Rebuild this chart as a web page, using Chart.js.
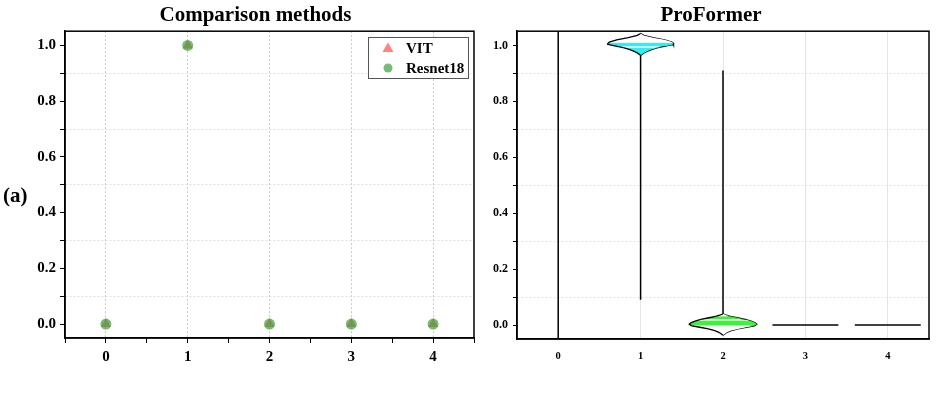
<!DOCTYPE html>
<html>
<head>
<meta charset="utf-8">
<script src="https://cdn.jsdelivr.net/npm/chart.js@4.4.0/dist/chart.umd.min.js"></script>
<style>
  html, body { margin: 0; padding: 0; background: #fff; }
  #wrap { position: relative; width: 936px; height: 393px; }
  #leftBox { position: absolute; left: 0; top: 0; width: 480px; height: 393px; }
  #rightBox { position: absolute; left: 480px; top: 0; width: 456px; height: 393px; }
  #tag { position: absolute; left: 3px; top: 183px; font: bold 21px 'Liberation Serif', serif; line-height: 24px; }
</style>
</head>
<body>
<div id="wrap">
  <div id="leftBox"><canvas id="cmpChart" width="480" height="393"></canvas></div>
  <div id="rightBox"><canvas id="proChart" width="456" height="393"></canvas></div>
  <div id="tag">(a)</div>
</div>
<script>
// class indices and scores of the comparison methods
const classes = [0, 1, 2, 3, 4];
const vitScores = [0, 1, 0, 0, 0];
const resnetScores = [0, 1, 0, 0, 0];

// ProFormer: vertical range line per class (null = none)
const proLineLow = [-0.05, 0.09, 0.04, null, null];
const proLineHigh = [1.05, 0.964, 0.91, null, null];

// classes whose distribution collapses to a single value
const flatClasses = [3, 4];
const flatValues = [0, 0];
const flatHalfWidth = [0.4, 0.4];

// violin of class 1 (levels and half widths)
const violin1Levels = [1.043, 1.036, 1.028, 1.020, 1.013, 1.009, 1.004, 1.000, 0.996, 0.992, 0.986, 0.980, 0.974, 0.969, 0.964];
const violin1Widths = [0, 0.04, 0.15, 0.29, 0.37, 0.395, 0.40, 0.34, 0.27, 0.21, 0.14, 0.085, 0.045, 0.02, 0];
const violin1Band = [0.964, 1.009];
const violin1Stripe = [0.992, 0.996];

// violin of class 2
const violin2Levels = [0.040, 0.035, 0.031, 0.026, 0.020, 0.014, 0.008, 0.003, -0.003, -0.008, -0.014, -0.020, -0.026, -0.032, -0.037];
const violin2Widths = [0, 0.04, 0.09, 0.17, 0.27, 0.34, 0.39, 0.41, 0.38, 0.28, 0.18, 0.10, 0.05, 0.02, 0];
const violin2Band = [-0.003, 0.031];
const violin2Stripe = [0.014, 0.020];

Chart.defaults.font.family = "'Liberation Serif', 'Times New Roman', serif";
Chart.defaults.font.weight = 'bold';
Chart.defaults.color = '#000';

const isInt = v => Math.abs(v - Math.round(v)) < 1e-6;
const isEvenTenth = v => Math.round(v * 10) % 2 === 0;

// box around the plot area
const framePlugin = {
  id: 'frame',
  afterDraw(chart) {
    const { ctx, chartArea: a } = chart;
    ctx.save();
    ctx.strokeStyle = '#000';
    ctx.lineWidth = 1.5;
    ctx.strokeRect(a.left, a.top, a.right - a.left, a.bottom - a.top);
    ctx.restore();
  }
};

// legend box inside the plot, top right
const boxLegend = {
  id: 'boxLegend',
  afterDraw(chart) {
    const ctx = chart.ctx;
    const x0 = 368, y0 = 37, w = 100, h = 41;
    ctx.save();
    ctx.fillStyle = '#fff';
    ctx.fillRect(x0, y0, w, h);
    ctx.strokeStyle = '#555';
    ctx.lineWidth = 1;
    ctx.strokeRect(x0 + 0.5, y0 + 0.5, w, h);
    chart.data.datasets.forEach((ds, i) => {
      const cy = y0 + 11 + i * 20, cx = x0 + 20;
      ctx.fillStyle = ds.backgroundColor;
      ctx.beginPath();
      if (ds.pointStyle === 'triangle') {
        ctx.moveTo(cx, cy - 5.5);
        ctx.lineTo(cx + 5.5, cy + 4);
        ctx.lineTo(cx - 5.5, cy + 4);
        ctx.closePath();
      } else {
        ctx.arc(cx, cy, 4.5, 0, Math.PI * 2);
      }
      ctx.fill();
      ctx.fillStyle = '#000';
      ctx.font = "bold 15px 'Liberation Serif'";
      ctx.textBaseline = 'middle';
      ctx.fillText(ds.label, x0 + 38, cy + 1);
    });
    ctx.restore();
  }
};

new Chart(document.getElementById('cmpChart'), {
  type: 'scatter',
  data: {
    datasets: [
      {
        label: 'VIT',
        data: classes.map((c, i) => ({ x: c, y: vitScores[i] })),
        pointStyle: 'triangle',
        backgroundColor: 'rgba(255, 90, 90, 0.75)',
        borderColor: 'rgba(255, 90, 90, 0.75)',
        borderWidth: 0,
        pointRadius: 6,
        order: 2
      },
      {
        label: 'Resnet18',
        data: classes.map((c, i) => ({ x: c, y: resnetScores[i] })),
        pointStyle: 'circle',
        backgroundColor: 'rgba(60, 160, 60, 0.7)',
        borderColor: 'rgba(60, 160, 60, 0.7)',
        borderWidth: 0,
        pointRadius: 5.5,
        order: 1
      }
    ]
  },
  options: {
    responsive: false,
    animation: false,
    layout: { padding: { left: 36, right: 5, top: 0, bottom: 0 } },
    plugins: {
      legend: { display: false },
      tooltip: { enabled: false },
      title: {
        display: true,
        text: 'Comparison methods',
        font: { size: 21, weight: 'bold' },
        padding: { top: 3, bottom: 3 }
      }
    },
    scales: {
      x: {
        type: 'linear', min: -0.5, max: 4.5,
        afterFit: s => { s.height = 55; },
        ticks: {
          stepSize: 0.5, autoSkip: false, maxRotation: 0, padding: 5,
          font: { size: 15, weight: 'bold' },
          callback: v => isInt(v) ? String(Math.round(v)) : ''
        },
        grid: {
          color: c => isInt(c.tick.value) ? '#c8c8c8' : 'rgba(0,0,0,0)',
          tickColor: '#000', tickLength: 5, lineWidth: 1
        },
        border: { color: '#000', width: 1.5, dash: [2, 2] }
      },
      y: {
        type: 'linear', min: -0.05, max: 1.051,
        afterFit: s => { s.width = 29; },
        ticks: {
          stepSize: 0.1, autoSkip: false, includeBounds: false, padding: 4,
          font: { size: 15, weight: 'bold' },
          callback: v => isEvenTenth(v) ? v.toFixed(1) : ''
        },
        grid: {
          color: c => isEvenTenth(c.tick.value) ? 'rgba(0,0,0,0)' : '#e0e0e0',
          tickColor: '#000', tickLength: 5, lineWidth: 1
        },
        border: { color: '#000', width: 1.5, dash: [2, 2] }
      }
    }
  },
  plugins: [framePlugin, boxLegend]
});

// ---- ProFormer violins ----
function inside(a, b, r) {
  return Math.min(a, b) >= r[0] - 1e-9 && Math.max(a, b) <= r[1] + 1e-9;
}

function violinEdges(center, levels, widths, band, stripe, color, pale) {
  const left = levels.map((y, i) => ({ x: center - widths[i], y }));
  const right = levels.map((y, i) => ({ x: center + widths[i], y }));
  return [
    {
      data: left, borderColor: '#000', borderWidth: 1.3, pointRadius: 0,
      fill: '+1', backgroundColor: '#fff',
      segment: {
        backgroundColor: ctx => {
          const a = ctx.p0.parsed.y, b = ctx.p1.parsed.y;
          if (inside(a, b, stripe)) return pale;
          if (inside(a, b, band)) return color;
          return '#fff';
        }
      }
    },
    { data: right, borderColor: '#000', borderWidth: 1.3, pointRadius: 0, fill: false }
  ];
}

const proSets = [];
classes.forEach((c, i) => {
  if (proLineLow[i] === null) return;
  proSets.push({
    data: [{ x: c, y: proLineLow[i] }, { x: c, y: proLineHigh[i] }],
    borderColor: '#000', borderWidth: 1.5, pointRadius: 0, fill: false
  });
});
flatClasses.forEach((c, i) => {
  proSets.push({
    data: [{ x: c - flatHalfWidth[i], y: flatValues[i] }, { x: c + flatHalfWidth[i], y: flatValues[i] }],
    borderColor: '#000', borderWidth: 1.5, pointRadius: 0, fill: false
  });
});
proSets.push(...violinEdges(1, violin1Levels, violin1Widths, violin1Band, violin1Stripe, '#2ef0f4', '#c8fafa'));
proSets.push(...violinEdges(2, violin2Levels, violin2Widths, violin2Band, violin2Stripe, '#3ff03f', '#c0f7c0'));

new Chart(document.getElementById('proChart'), {
  type: 'line',
  data: { datasets: proSets },
  options: {
    indexAxis: 'y',
    responsive: false,
    animation: false,
    layout: { padding: { left: 11, right: 5, top: 0, bottom: 0 } },
    plugins: {
      legend: { display: false },
      tooltip: { enabled: false },
      title: {
        display: true,
        text: 'ProFormer',
        font: { size: 21, weight: 'bold' },
        padding: { top: 3, bottom: 3 }
      }
    },
    scales: {
      x: {
        type: 'linear', position: 'bottom', min: -0.5, max: 4.5,
        afterFit: s => { s.height = 54; },
        ticks: {
          stepSize: 0.5, autoSkip: false, maxRotation: 0, padding: 7,
          font: { size: 10.5, weight: 'bold' },
          callback: v => isInt(v) ? String(Math.round(v)) : ''
        },
        grid: {
          color: c => isInt(c.tick.value) ? '#e4e4e4' : 'rgba(0,0,0,0)',
          tickColor: 'rgba(0,0,0,0)',
          tickLength: 4, lineWidth: 1
        },
        border: { color: '#000', width: 1.5 }
      },
      y: {
        type: 'linear', position: 'left', min: -0.05, max: 1.051,
        afterFit: s => { s.width = 26; },
        ticks: {
          stepSize: 0.1, autoSkip: false, includeBounds: false, padding: 5,
          font: { size: 12, weight: 'bold' },
          callback: v => isEvenTenth(v) ? v.toFixed(1) : ''
        },
        grid: {
          color: c => isEvenTenth(c.tick.value) ? 'rgba(0,0,0,0)' : '#e4e4e4',
          tickColor: '#000', tickLength: 4, lineWidth: 1
        },
        border: { color: '#000', width: 1.5, dash: [2, 2] }
      }
    }
  },
  plugins: [framePlugin]
});
</script>
</body>
</html>
